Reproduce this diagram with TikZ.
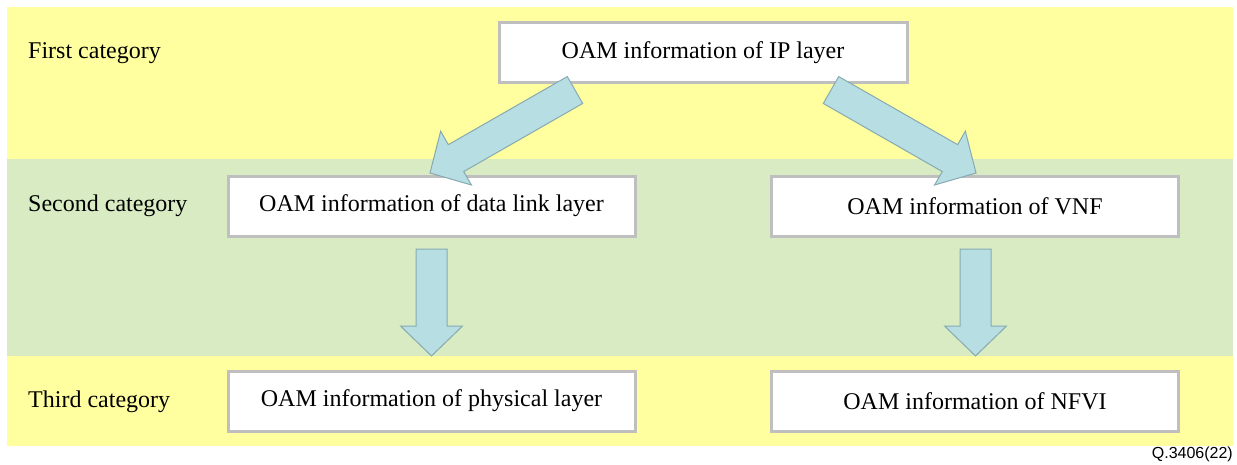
\documentclass[tikz,border=0pt]{standalone}
\usepackage{fontspec}
\setmainfont{Liberation Serif}
\newfontfamily\figsans{Liberation Sans}
\usetikzlibrary{calc}

\definecolor{bandyellow}{HTML}{FFFF9F}
\definecolor{bandgreen}{HTML}{D8EBC2}
\definecolor{boxgray}{HTML}{BFBFBF}
\definecolor{arrowfill}{HTML}{B7DEE3}
\definecolor{arrowline}{HTML}{86AAB0}

\tikzset{
  band/.style={fill=#1, draw=none},
  infobox/.style={draw=boxgray, line width=3pt, fill=white,
    minimum width=407pt, minimum height=60pt, inner sep=0pt,
    font=\fontsize{24}{28}\selectfont},
  catlabel/.style={anchor=west, inner sep=0pt, font=\fontsize{24}{28}\selectfont},
  blockarrow/.style={fill=arrowfill, draw=arrowline, line width=1pt, line join=miter},
}

% block arrow from tail centre #1 to tip #2
\newcommand{\blockarrow}[2]{%
  \draw[blockarrow]
    ($(#1)!15.5pt!90:(#2)$) --
    ($($(#2)!30pt!(#1)$)!15.5pt!-90:(#1)$) --
    ($($(#2)!30pt!(#1)$)!31pt!-90:(#1)$) --
    (#2) --
    ($($(#2)!30pt!(#1)$)!31pt!90:(#1)$) --
    ($($(#2)!30pt!(#1)$)!15.5pt!90:(#1)$) --
    ($(#1)!15.5pt!-90:(#2)$) -- cycle;}

\begin{document}
\begin{tikzpicture}[x=1pt, y=-1pt]
  \useasboundingbox (0,0) rectangle (1237,464);

  % category bands
  \fill[band=bandyellow] (7,7) rectangle (1233,159);
  \fill[band=bandgreen] (7,159) rectangle (1233,356);
  \fill[band=bandyellow] (7,356) rectangle (1233,446);

  % category labels
  \node[catlabel] (cat1) at (28,53) {First category};
  \node[catlabel] (cat2) at (28,206) {Second category};
  \node[catlabel] (cat3) at (28,402) {Third category};

  % information boxes
  \node[infobox, minimum width=408pt] (ip) at (703,52.5) {OAM information of IP layer};
  \node[infobox] (dl) at (431.5,206) {OAM information of data link layer};
  \node[infobox] (vnf) at (975,206) {OAM information of VNF};
  \node[infobox] (phy) at (431.5,401) {OAM information of physical layer};
  \node[infobox] (nfvi) at (975,401) {OAM information of NFVI};

  % arrow end points
  \coordinate (ipL) at (575,90);
  \coordinate (dlT) at (430,173);
  \coordinate (ipR) at (831,90);
  \coordinate (vnfT) at (976,173);
  \coordinate (dlB) at (431.5,249);
  \coordinate (phyT) at (431.5,356);
  \coordinate (vnfB) at (975.5,249);
  \coordinate (nfviT) at (975.5,356);

  \blockarrow{ipL}{dlT}
  \blockarrow{ipR}{vnfT}
  \blockarrow{dlB}{phyT}
  \blockarrow{vnfB}{nfviT}

  % figure number
  \node[anchor=east, inner sep=0pt, font=\figsans\fontsize{16}{18}\selectfont] (fig) at (1233,454) {Q.3406(22)};
\end{tikzpicture}
\end{document}
